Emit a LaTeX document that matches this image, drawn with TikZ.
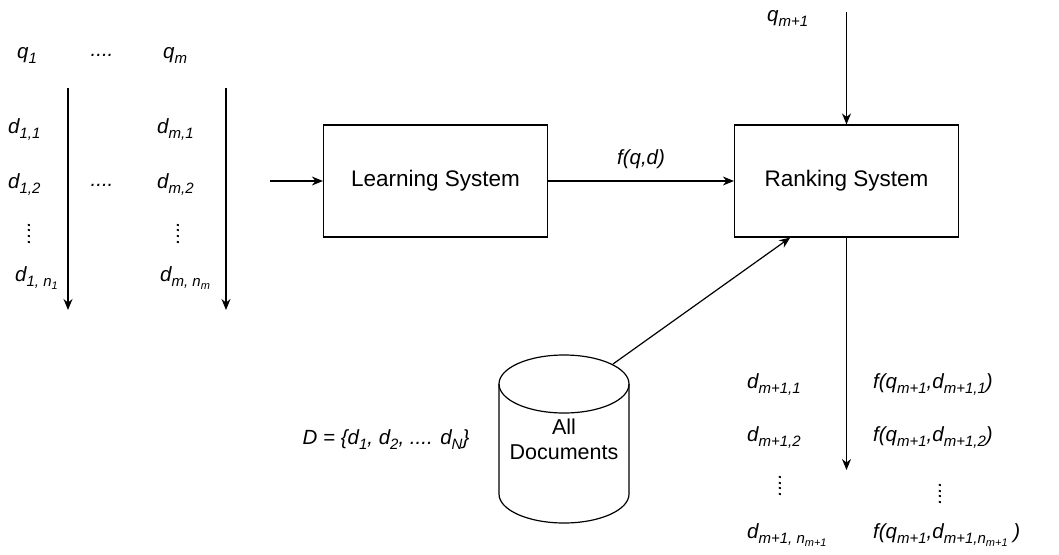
\documentclass[tikz,border=0pt]{standalone}
\usepackage{fontspec}
\setmainfont{Liberation Sans}
\usetikzlibrary{arrows.meta,calc}

\tikzset{
  sys/.style={draw, line width=1.2pt, minimum width=224pt, minimum height=112pt,
    font=\fontsize{22.5}{27}\selectfont},
  lab/.style={font=\fontsize{20.5}{24}\selectfont\itshape, inner sep=0pt},
  flow/.style={line width=1.2pt, -{Stealth[length=11pt,width=9pt]}},
}
\newcommand{\sbs}[1]{\raisebox{-5pt}{\fontsize{15}{15}\selectfont #1}}
\newcommand{\ssbs}[1]{\raisebox{-3pt}{\fontsize{11}{11}\selectfont #1}}
\newcommand{\vdts}{\rotatebox{90}{....}}

\begin{document}
\begin{tikzpicture}[x=1pt,y=-1pt]
 \useasboundingbox (0,0) rectangle (1059,554);

 % training data
 \node[lab, anchor=west] at (17,55)   (q1) {q\sbs{1}};
 \node[lab] at (102,55)               (qdots) {....};
 \node[lab, anchor=west] at (163,55)  (qm) {q\sbs{m}};
 \node[lab, anchor=west] at (8,130)   (d11) {d\sbs{1,1}};
 \node[lab, anchor=west] at (157,130) (dm1) {d\sbs{m,1}};
 \node[lab, anchor=west] at (8,185)   (d12) {d\sbs{1,2}};
 \node[lab] at (102,185)              (ddots) {....};
 \node[lab, anchor=west] at (157,185) (dm2) {d\sbs{m,2}};
 \node[lab] at (29,233)               (vd1) {\vdts};
 \node[lab] at (178,233)              (vdm) {\vdts};
 \node[lab, anchor=west] at (15,278)  (d1n) {d\sbs{1, n\ssbs{1}}};
 \node[lab, anchor=west] at (160,278) (dmn) {d\sbs{m, n\ssbs{m}}};

 \coordinate (l1top) at (68,88);   \coordinate (l1bot) at (68,310);
 \coordinate (lmtop) at (226,88);  \coordinate (lmbot) at (226,310);
 \draw[flow] (l1top) -- (l1bot);
 \draw[flow] (lmtop) -- (lmbot);

 % systems
 \node[sys] at (435.5,181) (learn) {Learning System};
 \node[sys] at (846.5,181) (rank)  {Ranking System};

 \coordinate (in) at (270,181);
 \draw[flow] (in) -- (learn);
 \draw[flow] (learn) -- node[lab, above=12pt] (fqd) {f(q,d)} (rank);

 \node[lab, anchor=west] at (767,18) (qnew) {q\sbs{m+1}};
 \coordinate (qtop) at (846.5,12);
 \draw[flow] (qtop) -- (rank);

 % document collection (cylinder)
 \draw[line width=1.2pt] (499,384) -- (499,494)
   arc[start angle=180, end angle=0, x radius=65, y radius=29] -- (629,384);
 \draw[line width=1.2pt] (564,384) ellipse[x radius=65, y radius=29];
 \node[align=center, font=\fontsize{21.5}{25}\selectfont] at (564,439) (docs) {All\\Documents};
 \coordinate (dbtop) at (613,364);
 \node[lab] at (386,440) (dset) {D = \{d\sbs{1}, d\sbs{2}, .... d\sbs{N}\}};
 \draw[flow] (dbtop) -- ($(rank.south)!0.5!(rank.south west)$);

 % ranking output
 \coordinate (rbot) at (846.5,470);
 \draw[flow] (rank) -- (rbot);
 \node[lab, anchor=west] at (747,385) (r1)  {d\sbs{m+1,1}};
 \node[lab, anchor=west] at (873,385) (f1)  {f(q\sbs{m+1},d\sbs{m+1,1})};
 \node[lab, anchor=west] at (747,438) (r2)  {d\sbs{m+1,2}};
 \node[lab, anchor=west] at (873,438) (f2)  {f(q\sbs{m+1},d\sbs{m+1,2})};
 \node[lab] at (780,485) (rvd) {\vdts};
 \node[lab] at (940,493) (fvd) {\vdts};
 \node[lab, anchor=west] at (747,535) (rn)  {d\sbs{m+1, n\ssbs{m+1}}};
 \node[lab, anchor=west] at (873,535) (fn)  {f(q\sbs{m+1},d\sbs{m+1,n\ssbs{m+1}} )};
\end{tikzpicture}
\end{document}
